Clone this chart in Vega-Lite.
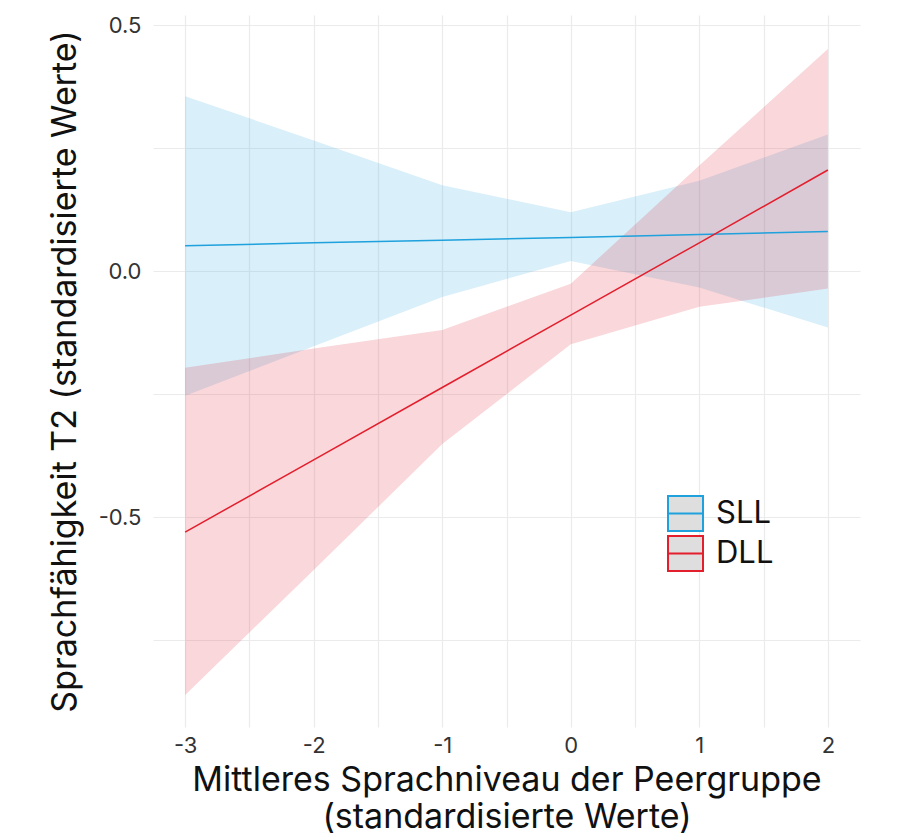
{
  "$schema": "https://vega.github.io/schema/vega-lite/v6.json",
  "width": 707,
  "height": 712,
  "autosize": "none",
  "padding": {"left": 153, "top": 15, "right": 37, "bottom": 109},
  "background": "white",
  "data": {
    "values": [
      {"group": "SLL", "x": -3, "fit": 0.052, "lower": -0.253, "upper": 0.356},
      {"group": "SLL", "x": -2, "fit": 0.058, "lower": -0.152, "upper": 0.266},
      {"group": "SLL", "x": -1, "fit": 0.063, "lower": -0.052, "upper": 0.175},
      {"group": "SLL", "x": 0, "fit": 0.069, "lower": 0.021, "upper": 0.12},
      {"group": "SLL", "x": 1, "fit": 0.075, "lower": -0.033, "upper": 0.184},
      {"group": "SLL", "x": 2, "fit": 0.081, "lower": -0.114, "upper": 0.278},
      {"group": "DLL", "x": -3, "fit": -0.53, "lower": -0.861, "upper": -0.196},
      {"group": "DLL", "x": -2, "fit": -0.383, "lower": -0.607, "upper": -0.157},
      {"group": "DLL", "x": -1, "fit": -0.236, "lower": -0.351, "upper": -0.119},
      {"group": "DLL", "x": 0, "fit": -0.089, "lower": -0.148, "upper": -0.025},
      {"group": "DLL", "x": 1, "fit": 0.058, "lower": -0.072, "upper": 0.215},
      {"group": "DLL", "x": 2, "fit": 0.206, "lower": -0.035, "upper": 0.452}
    ]
  },
  "encoding": {
    "x": {
      "field": "x",
      "type": "quantitative",
      "scale": {"domain": [-3.25, 2.25], "nice": false, "zero": false},
      "axis": {
        "values": [-3, -2.5, -2, -1.5, -1, -0.5, 0, 0.5, 1, 1.5, 2],
        "labelExpr": "datum.value % 1 == 0 ? (datum.value < 0 ? '-' : '') + abs(datum.value) : ''",
        "title": ["Mittleres Sprachniveau der Peergruppe", "(standardisierte Werte)"],
        "labelPadding": 8,
        "titlePadding": 7,
        "titleLineHeight": 37
      }
    }
  },
  "layer": [
    {
      "transform": [{"filter": "false"}],
      "mark": {"type": "point", "filled": true, "fill": "#dedede", "opacity": 1, "strokeWidth": 2, "size": 1225, "shape": "M-1,-1H1V1H-1Z M-1,0H1"},
      "encoding": {
        "y": {
          "field": "fit",
          "type": "quantitative",
          "scale": {"domain": [-0.926, 0.521], "nice": false, "zero": false},
          "axis": {
            "values": [-0.75, -0.5, -0.25, 0, 0.25, 0.5],
            "labelExpr": "abs(datum.value * 2) % 1 == 0 ? (datum.value < 0 ? '-' : '') + format(abs(datum.value), '.1f') : ''",
            "title": "Sprachfähigkeit T2 (standardisierte Werte)",
            "labelPadding": 12,
            "titlePadding": 16
          }
        },
        "stroke": {
          "field": "group",
          "type": "nominal",
          "scale": {"domain": ["SLL", "DLL"], "range": ["#1ea1dc", "#e31e2d"]},
          "legend": {
            "symbolType": "M-1,-1H1V1H-1Z M-1,0H1",
            "symbolSize": 1225,
            "symbolStrokeWidth": 2,
            "symbolOpacity": 1
          }
        }
      }
    },
    {
      "transform": [{"filter": {"field": "group", "equal": "SLL"}}],
      "mark": {"type": "area", "color": "#41afe1", "opacity": 0.2},
      "encoding": {
        "y": {"field": "upper", "type": "quantitative"},
        "y2": {"field": "lower"}
      }
    },
    {
      "transform": [{"filter": {"field": "group", "equal": "DLL"}}],
      "mark": {"type": "area", "color": "#e13746", "opacity": 0.2},
      "encoding": {
        "y": {"field": "upper", "type": "quantitative"},
        "y2": {"field": "lower"}
      }
    },
    {
      "mark": {"type": "line", "strokeWidth": 1.5},
      "encoding": {
        "y": {"field": "fit", "type": "quantitative"},
        "stroke": {"field": "group", "type": "nominal"}
      }
    }
  ],
  "config": {
    "view": {"stroke": null},
    "font": "Inter",
    "axis": {
      "domain": false,
      "ticks": false,
      "grid": true,
      "gridColor": "#ebebeb",
      "gridWidth": 1.2,
      "labelFont": "Inter",
      "labelFontSize": 22,
      "labelColor": "#333333",
      "titleFont": "Inter",
      "titleFontSize": 34,
      "titleFontWeight": "normal",
      "titleColor": "#111111"
    },
    "legend": {
      "orient": "none",
      "legendX": 514,
      "legendY": 480,
      "title": null,
      "padding": 0,
      "labelFont": "Inter",
      "labelFontSize": 31,
      "labelColor": "#111111",
      "labelOffset": 12,
      "rowPadding": -6
    }
  }
}
